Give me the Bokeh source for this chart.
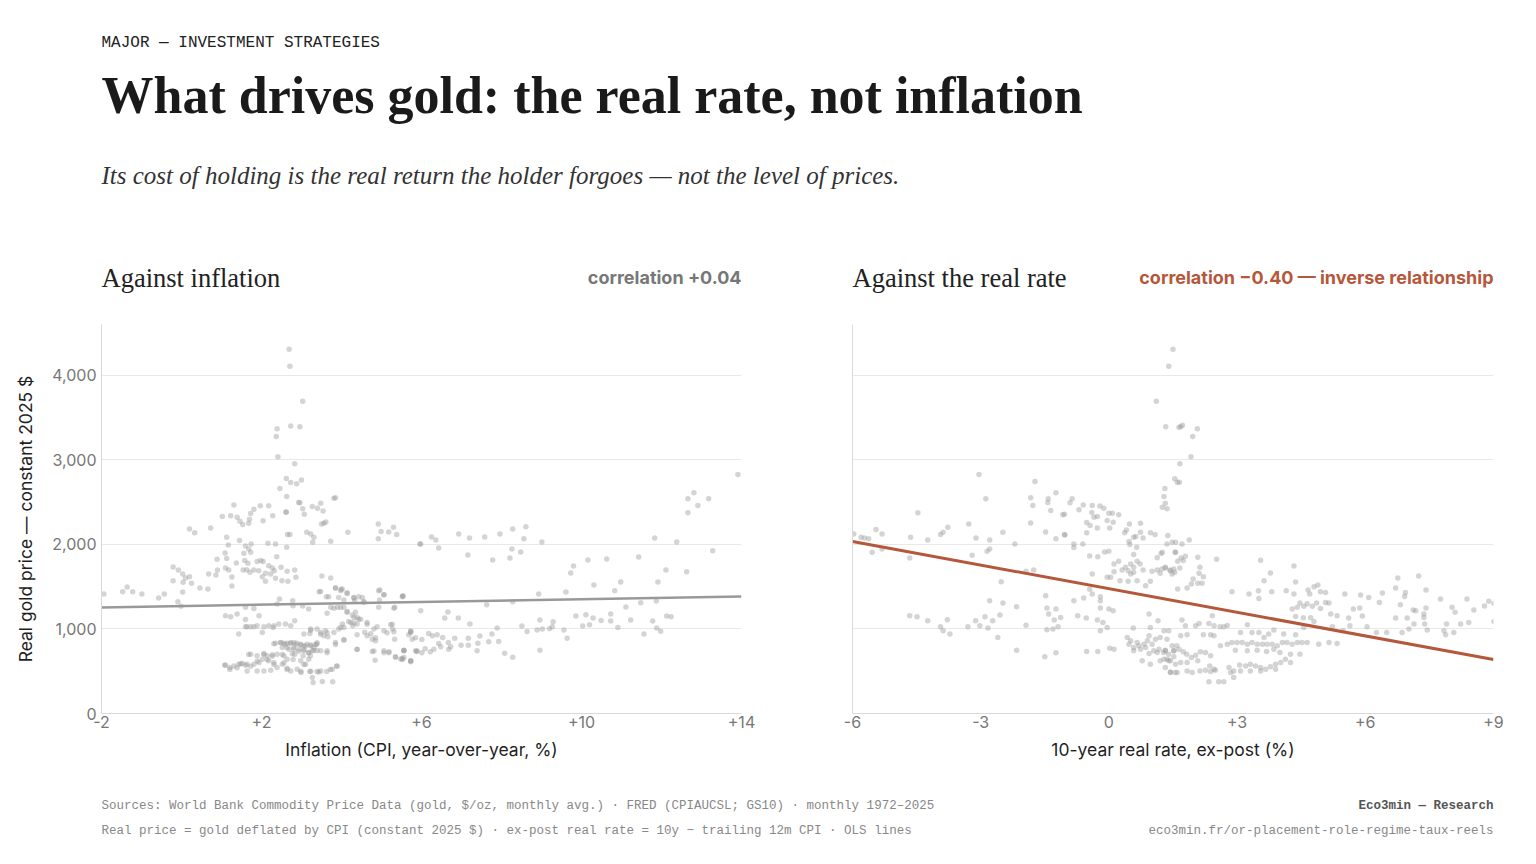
from bokeh.plotting import figure
from bokeh.models import Range1d, Label, FixedTicker, ColumnDataSource
from bokeh.layouts import column, row
from bokeh.embed import file_html
from bokeh.resources import INLINE

# ---- data ----
# left panel: inflation (CPI yoy, %) vs real gold price (constant 2025 $)
infl_pct = [
    -1.94, -1.47, -1.36, -1.22, -0.99, -0.57, -0.43,
    -0.21, -0.08, 0.03, 0.1, 0.2, 0.25, -0.21, 0.04, 0.03, -0.09, -0.01, 0.2, 0.33, 0.73, 0.46, 0.66, 0.68, 0.86, 0.9, 0.89,
    1.02, 1.13, 1.17, 1.09, 1.13, 1.1, 1.18, 1.26, 1.26, 1.37, 1.45, 1.56, 1.6, 1.68, 1.73, 1.58, 1.66, 1.54, 1.63, 1.71,
    1.81, 1.89, 1.98, 2.04, 1.93, 2.02, 2.1, 2.18, 2.27, 2.32, 2.23, 2.1, 2.35, 2.49, 2.38, 2.35, 2.16, 1.74, 2.63, 2.65,
    2.61, 2.83, 2.86, 2.64, 2.51, 2.66, 2.45, 2.39, 2.79, 2.78, 3.03, 3.18, 3.44, 3.62, 3.51, 3.73, 3.85, 3.99, 3.93, 4.06,
    4.16, 3.73, 3.23, 3.13, 3.31, 3.28, 3.56, 3.61, 3.5, 3.4, 3.27, 3.48, 3.54, 3.81, 3.85,
    1.31, 1.23, 1.39, 1.46, 1.53, 1.68, 1.7, 1.73, 1.81, 1.97, 2.18, 2.04, 2.28, 2.71,
    2.69, 2.71, 3.03, 2.73, 2.96, 2.39, 2.37, 2.41, 2.83, 2.62, 2.73, 2.88, 3.0, 2.46, 2.63, 2.93, 2.96, 2.62, 3.03, 3.07,
    4.02, 4.14, 4.31, 4.33, 4.52, 4.56, 4.96, 5.06, 4.95, 4.93, 5.33, 5.54, 4.92, 4.99, 4.92, 5.18, 5.3, 5.38, 5.96,
    3.73, 3.9, 4.06, 4.14, 4.35, 4.31, 4.23, 4.39, 4.48, 4.64, 4.58, 4.39, 4.28, 4.06, 3.93, 4.02, 3.64, 3.6, 3.81, 3.48,
    3.56, 3.66, 3.39, 3.23, 3.21, 3.06, 4.81, 4.89, 5.06, 5.23, 5.28, 5.33, 4.64, 4.77, 4.85, 5.06, 5.19, 5.35, 5.52, 5.73,
    5.56, 5.73, 5.85, 4.84, 4.77, 4.39, 4.06, 3.85, 3.64, 3.89,
    1.1, 1.23, 1.39, 1.6, 1.43, 1.6, 1.64, 1.73, 1.81, 1.89, 2.02, 2.06, 2.18, 2.31, 2.43, 2.6, 2.73, 2.83, 1.94, 1.81, 1.6, 2.29,
    2.35, 2.48, 2.56, 2.64, 2.73, 2.81, 2.89, 2.98, 3.06, 3.14, 3.23, 3.31, 3.38, 2.81, 2.94, 3.06, 3.18, 3.27, 3.04, 3.22, 2.52, 2.69, 2.83, 2.64, 2.98, 3.18, 3.1,
    1.73, 1.89, 2.06, 2.14, 2.27, 2.39, 2.56, 2.02, 2.18, 2.31, 1.94, 1.81, 1.64, 1.52, 1.43, 1.31, 1.21, 1.08, 1.64, 1.89,
    2.06, 2.23, 2.39, 2.52, 2.64, 2.73, 2.89, 2.99, 3.21, 3.39, 3.48, 3.63, 3.77, 3.27, 3.29, 3.52, 3.78, 3.48,
    1.1, 1.21, 1.39, 1.48, 1.6, 1.73, 1.68, 1.89, 2.06, 2.14, 2.27, 2.31, 2.52, 2.56, 2.64, 2.77, 2.79, 2.98, 3.06, 3.23, 3.43, 3.72, 3.88,
    2.31, 2.48, 2.6, 2.73, 2.85, 2.98, 3.1, 3.23, 3.35, 2.64, 2.81, 2.93, 3.06, 3.18, 3.31, 3.39,
    3.48, 3.68, 3.85, 3.98, 4.14, 4.31, 4.43, 4.56, 3.81, 3.98, 4.14, 4.27, 4.39, 4.18, 4.31, 4.43, 4.64, 4.73, 4.85, 5.14,
    5.27, 5.31, 5.52, 4.93, 5.06, 5.31, 5.73, 5.85, 4.81, 5.06, 5.18, 5.35, 5.52, 5.73, 5.56, 5.89, 3.64, 3.85, 4.06, 3.39, 3.48, 3.64, 3.23, 3.98, 4.39,
    13.91, 12.66, 12.81, 12.91, 13.18, 12.66, 13.28, 12.63, 12.38, 11.83, 11.43, 12.11, 11.91, 10.63, 10.16, 9.8, 9.73, 10.31, 10.98, 10.83,
    9.61, 8.93, 9.01, 8.61, 8.28, 8.56, 7.96, 7.58, 7.2, 6.93, 6.25, 6.36, 6.43, 5.98, 7.16, 7.78, 8.21, 8.26, 8.48, 7.63,
    8.28, 5.53, 5.98, 6.66, 6.58, 6.92, 7.21, 7.89, 8.51, 8.64, 8.96, 8.89, 9.02, 9.29, 9.27, 9.2, 9.56, 9.64, 9.86, 10.03,
    10.11, 10.2, 10.29, 10.49, 10.73, 10.73, 10.91, 11.11, 11.23, 11.48, 11.56, 11.78, 11.87, 11.88, 11.98, 12.13, 12.24,
    5.73, 5.68, 5.77, 5.56, 5.56, 5.48, 5.73, 5.88, 6.01, 6.09, 6.22, 6.31, 6.01, 6.18, 6.27, 6.39, 6.53, 6.43, 6.48, 6.67,
    6.73, 6.68, 6.83, 6.99, 7.17, 7.17, 7.41, 7.39, 7.46, 7.68, 7.76, 7.93, 8.08, 8.28, 8.96,
]
infl_price = [
    1413, 1440, 1496, 1440, 1413, 1365, 1413,
    1733, 1697, 1650, 1602, 1618, 1539, 1571, 1551, 1437, 1322, 1267, 2183, 2136, 2195, 1484, 1472, 1650, 1638, 1697, 1824,
    2329, 2084, 1993, 1899, 1832, 1721, 1697, 1614, 1507, 1780, 2045, 1895, 1981, 1946, 1907, 1808, 1776, 1697, 1701, 1669,
    1697, 1796, 1808, 1796, 1689, 1618, 1658, 1748, 1721, 1689, 1650, 1563, 1598, 1729, 1855, 2005, 2013, 2005, 1966, 2116,
    2380, 1697, 1610, 1681, 1571, 1563, 1353, 1294, 1274, 1333, 1270, 1235, 1440, 1381, 1626, 1602, 1484, 1468, 1373, 1341,
    2144, 2037, 2124, 2144, 2084, 2025, 2250, 2266, 2242, 2428, 2448, 2487, 2396, 2546, 2550,
    2467, 2337, 2321, 2274, 2234, 2250, 2297, 2365, 2416, 2456, 2456, 2278, 2337, 2116,
    4308, 4107, 3692, 3400, 3392, 3368, 3277, 3036, 2953, 2779, 2732, 2716, 2760, 2661, 2566, 2495, 2491, 2384, 2420, 2357,
    1472, 1428, 1373, 1333, 1373, 1314, 1460, 1405, 1342, 1255, 1255, 1389, 2242, 2151, 2065, 2147, 2203, 2116, 2005,
    1255, 1255, 1255, 1196, 1196, 1136, 1077, 1057, 1116, 1077, 962, 931, 1037, 1018, 998, 1057, 1184, 978, 958, 958,
    919, 907, 998, 998, 947, 939, 998, 1026, 978, 1049, 998, 879, 919, 879, 860, 741, 729, 670, 650, 623,
    741, 958, 741, 630, 733, 761, 867, 840, 741, 563,
    1156, 1144, 1176, 1113, 939, 1026, 1026, 1026, 1026, 1037, 958, 1026, 1037, 1037, 1057, 1057, 1037, 1097, 1156, 1243, 1255, 1018,
    832, 840, 832, 832, 832, 840, 832, 820, 800, 820, 800, 781, 820, 781, 761, 741, 721, 741, 682, 682, 781, 761, 702, 642, 623, 642, 583,
    702, 682, 709, 682, 694, 702, 682, 642, 623, 603, 603, 583, 583, 591, 583, 563, 544, 575, 504, 504,
    504, 512, 544, 583, 536, 504, 524, 484, 496, 496, 504, 496, 524, 425, 366, 378, 374, 741,
    571, 520, 540, 587, 571, 559, 698, 618, 698, 638, 678, 579, 698, 599, 520, 706, 638, 500, 579, 500, 492, 520, 559,
    825, 837, 817, 837, 817, 809, 797, 809, 817, 777, 757, 737, 757, 718, 746, 746,
    1444, 1381, 1484, 1452, 1420, 1365, 1381, 1325, 1246, 1254, 1206, 1166, 1135, 1087, 1071, 1115, 1055, 944, 896, 956,
    1055, 968, 1381, 1452, 1404, 1246, 968, 896, 738, 718, 718, 666, 638, 611, 746, 738, 718, 817, 876, 837, 936, 956, 984, 1016, 757,
    2827, 2539, 2610, 2460, 2539, 2373, 1926, 1677, 2029, 2076, 1851, 1697, 1555, 1828, 1816, 1745, 1662, 1519, 1555, 1452,
    1436, 1413, 2029, 2207, 2183, 2065, 2124, 2088, 2076, 2124, 2088, 2053, 1958, 2005, 1875, 1816, 1839, 1946, 1911, 1286,
    1322, 1389, 1215, 1199, 1128, 1128, 1057, 1010, 1034, 970, 1105, 986, 998, 1085, 1026, 1002, 986, 891, 1152, 1034,
    1168, 1049, 1128, 1101, 1176, 1093, 1018, 1259, 1105, 1310, 939, 1093, 1330, 1010, 974, 1152, 1144,
    978, 931, 879, 749, 662, 643, 623, 733, 717, 765, 729, 761, 875, 946, 919, 931, 899, 828, 788, 840,
    788, 761, 891, 808, 891, 808, 832, 741, 915, 848, 939, 852, 713, 666, 749,
]

# right panel: 10-year real rate, ex-post (%) vs real gold price
rate_pct = [
    1.5, 1.4, 1.11, 1.33, 1.64, 1.68, 1.72, 2.07, 1.96, 1.92, 1.66, 1.54, 1.6, 1.65, 1.31, 1.29, 1.32, 1.25, 1.36,
    -3.04, -1.73, -2.88, -4.47, -1.83, -1.78, -1.43, -1.24, -1.42, -1.36, -0.91, -0.86, -0.7, -0.6, -1.04, -1.08, -1.83, -1.48, -1.24, -1.04, -0.82, -0.82, -0.61,
    -0.39, -0.21, -0.4, -0.35, -0.27, -0.12, 0, 0.08, 0.23, -0.04, 0.1, 0.02, -0.52, -0.52, -0.27, -0.44,
    0.37, 0.48, 0.41, 0.47, 0.49, 0.58, 0.63, 0.74, 0.8, 0.97, 1.08,
    -0.1, 0.0, -0.26, -0.45, -0.39, -0.04, 0.04, 0.12, 0.23, 0.31, 0.39, 0.45, 0.51, 0.58, 0.66, 0.73, 0.8, 0.58, 0.51, 0.58,
    0.65, 0.74, 0.12, 0.26, 0.45, 0.66, 0.86, 0.97, 1.01, 1.13, 1.2, 1.24, 1.32, 1.44, 1.52, 1.13, 1.22, 1.55,
    -5.97, -5.8, -5.72, -5.62, -5.45, -5.31, -5.54, -5.31, -4.64, -4.66, -4.24, -3.94, -3.88, -3.77, -3.28, -3.11, -2.79, -2.79, -2.85, -2.48,
    -2.2, -3.2, -2.52, -1.94, -1.76, -1.48, -1.03, -0.59, -0.45, -0.39, -0.2, -0.2, 0, 0.1, -0.2, -0.53, -0.73,
    -4.66, -4.49, -4.24, -3.94, -3.88, -3.78, -3.72, -3.3, -3.12, -3.02, -2.9, -2.83, -2.72, -2.6, -2.55, -2.79, -2.48, -2.16, -2.16, -1.94,
    -1.5, -1.45, -1.31, -1.24, -1.19, -1.28, -1.41, -1.24, -1.13, -1.45, -0.82, -0.52, -0.26, -0.27, -0.14, -0.2, -0.04, 0.02, 0.12, 0.57,
    0.43, 0.47, 0.58, 0.7, 0.78, 0.86, 0.94, 0.97, 0.9, 1.01, 1.09, 1.13, 1.2, 1.32, 1.36, 1.44, 1.55, 1.44, 1.52, 1.59, 1.4, 1.15, 0.94,
    0.51, 0.58, 0.66, 0.74, 0.82, 0.94, 1.05, 1.17, 1.28, 1.4, 1.52, 0.97, 1.2, 1.32,
    1.38, 1.36, 1.48, 1.56, 1.71, 1.88, 1.25, 1.56, 1.69, 1.79, 1.74, 1.61, 1.32, 1.43, 1.54, 1.48, 1.66, 2.08, 2.13, 2.11,
    2.21, 2.08, 2.18, 1.97, 1.93, 1.61, 1.83, 2.52, 3.55, 3.78, 3.63, 4.33, 4.37, 2.88, 3.28, 3.5, 3.51, 3.81, 4.15, 4.33,
    4.8, 4.89, 4.95, 5.07, 4.66, 4.7, 5.52, 5.89, 6.08, 6.4, 6.33, 6.76, 6.71, 6.94, 6.92, 7.25, 7.42, 6.82, 7.18, 7.12,
    7.42, 7.37, 7.37, 7.39, 7.45, 7.14, 6.98, 7.02, 6.86, 6.71, 6.5, 6.26, 6.04, 5.93, 5.87, 5.72, 5.61, 5.64, 5.48, 5.34,
    5.19, 5.15, 5.07, 4.95, 4.86, 4.76, 4.64, 4.56, 4.47, 4.41, 4.29, 4.37, 4.55, 4.72, 4.8, 5.23,
    7.76, 8.03, 8.1, 8.38, 8.54, 8.79, 8.89, 9.01, 9.01, 8.42, 8.23, 7.9, 8.07, 7.88, 7.84,
    1.29, 1.36, 1.48, 1.32, 1.29, 1.4, 1.52, 1.64, 1.74, 1.82, 1.93, 2.03, 2.14, 2.26, 2.38, 2.08, 1.83, 1.68, 1.56, 1.44,
    1.6, 1.83, 1.95, 2.13, 2.26, 2.38, 2.46, 2.36, 2.49, 2.34, 2.57, 2.69, 2.81, 2.92, 2.92, 3.06, 3.2, 3.31, 3.43, 3.55,
    3.67, 3.78, 3.9, 4.02, 4.13, 4.25, 2.85, 3.08, 3.31, 3.55, 3.9,
    2.61, 2.77, 2.88, 3.0, 3.12, 3.24, 3.35, 3.47, 3.59, 3.7, 3.82, 3.94, 4.06, 4.17, 4.29, 4.41, 4.52, 4.64, 4.91, 5.15, 5.34,
    2.96, 3.24, 3.47, 3.69, 3.86, 4.0, 4.25, 4.47, 3.08, 3.24, 3.35, 3.51, 3.63, 3.74, 3.86, 4.09, 4.37, 4.56,
    2.77, 2.69, 2.6, 2.46, 2.34, 2.42, 2.21, 2.38, 2.46, 2.11, 2.03, 1.79, 1.71, 1.68, 1.83,
]
rate_price = [
    4308, 4107, 3692, 3392, 3384, 3392, 3408, 3368, 3277, 3036, 2953, 2776, 2736, 2736, 2661, 2566, 2487, 2440, 2420,
    2827, 2744, 2539, 2373, 2550, 2459, 2495, 2610, 2539, 2400, 2491, 2539, 2408, 2467, 2357, 2349, 2254, 2147, 2065, 2116, 2005, 1962, 2005,
    2459, 2455, 2377, 2321, 2329, 2428, 2369, 2369, 2349, 2282, 2262, 2195, 2258, 2136, 2195, 2222,
    2136, 2242, 2171, 2033, 1997, 2084, 2092, 2250, 2076, 2136, 2116,
    1910, 1918, 1855, 1863, 1650, 1610, 1610, 1768, 1800, 1697, 1729, 1689, 1768, 1729, 1800, 1768, 1697, 1669, 1650, 1879,
    1966, 2143, 1677, 1571, 1563, 1571, 1511, 1563, 1681, 1697, 1658, 1709, 1721, 1689, 1709, 1843, 1891, 1907,
    2124, 2084, 2076, 2065, 2175, 2124, 1906, 1946, 2084, 1839, 2053, 2116, 2143, 2203, 2242, 2076, 2053, 1946, 1918, 2143,
    2005, 1871, 1559, 1681, 1697, 1393, 2112, 1365, 1468, 1413, 1381, 1333, 1235, 1215, 1247, 1128, 1156,
    1156, 1144, 1097, 1026, 978, 1109, 939, 1026, 1097, 1037, 1144, 1010, 1097, 899, 1164, 1334, 1306, 1263, 749, 1045,
    670, 990, 998, 717, 1026, 1105, 1176, 1235, 1136, 1247, 1334, 733, 733, 1105, 1077, 978, 1018, 773, 761, 1010,
    899, 820, 741, 800, 623, 781, 919, 1018, 860, 820, 879, 721, 899, 749, 642, 623, 485, 492, 741, 800, 978, 1097, 1176,
    860, 781, 840, 761, 820, 710, 741, 761, 721, 702, 670, 583, 623, 544,
    2104, 2005, 2025, 2025, 2005, 2053, 1907, 1907, 1839, 1859, 1808, 1800, 1729, 1697, 1669, 1650, 1721, 1847, 1729, 1658,
    1618, 1539, 1539, 1590, 1531, 1472, 1484, 1823, 1812, 1662, 1571, 1745, 1555, 1440, 1413, 1452, 1361, 1440, 1452, 1413,
    1500, 1519, 1440, 1432, 1460, 1413, 1413, 1401, 1373, 1425, 1314, 1602, 1484, 1432, 1385, 1626, 1460, 1286, 1215, 1223,
    1247, 1176, 1136, 1057, 986, 1057, 1128, 998, 958, 1128, 958, 958, 1026, 1152, 1247, 1235, 1128, 1037, 978, 1156,
    1176, 1306, 1314, 1243, 1306, 1267, 1298, 1267, 1306, 1255, 1235, 1148, 1132, 1132, 1089, 1026,
    1353, 1255, 1196, 1353, 1223, 1270, 1326, 1302, 1089, 1077, 1057, 1057, 958, 931, 978,
    978, 879, 800, 741, 642, 623, 741, 761, 729, 702, 662, 690, 729, 721, 682, 623, 603, 603, 583, 484,
    484, 504, 484, 504, 512, 496, 524, 563, 512, 374, 374, 374, 544, 504, 425, 575, 563, 583, 563, 544,
    524, 552, 524, 603, 642, 603, 484, 504, 504, 504, 583,
    800, 820, 840, 840, 840, 820, 840, 820, 820, 820, 820, 800, 840, 840, 820, 840, 840, 840, 820, 840, 828,
    749, 741, 749, 733, 761, 721, 702, 702, 958, 1049, 958, 958, 899, 939, 986, 939, 931, 1018,
    1041, 1026, 1026, 1037, 1065, 1156, 931, 931, 919, 1065, 1037, 1037, 1105, 919, 931,
]

# OLS lines: price = intercept + slope * x
ols_infl = (1270, 8.2)
ols_rate = (1476, -93.1)

infl_ticks = [-2, 2, 6, 10, 14]
infl_tick_labels = ["-2", "+2", "+6", "+10", "+14"]
rate_ticks = [-6, -3, 0, 3, 6, 9]
rate_tick_labels = ["-6", "-3", "0", "+3", "+6", "+9"]
price_ticks = [0, 1000, 2000, 3000, 4000]
price_tick_labels = ["0", "1,000", "2,000", "3,000", "4,000"]

corr_infl = "+0.04"
corr_rate = "\u22120.40"

INK = "#1f1f1f"
MUTED = "#777777"
RUST = "#b5573a"
DOT = "#999999"
SANS = "Inter"
SERIF = "Liberation Serif"
MONO = "Liberation Mono"


def text_panel(w, h):
    p = figure(width=w, height=h, x_range=Range1d(0, w), y_range=Range1d(h, 0),
               x_axis_type=None, y_axis_type=None, toolbar_location=None,
               output_backend="svg", min_border=0, outline_line_color=None)
    p.background_fill_color = "white"
    p.border_fill_color = "white"
    return p


def put(p, x, y, text, size, font=SANS, color=INK, style="normal", align="left"):
    p.add_layout(Label(x=x, y=y, text=text, text_font=font, text_font_size=size,
                       text_font_style=style, text_color=color, text_align=align,
                       text_baseline="middle"))


def scatter_panel(w, xs, ys, xr, ticks, tick_labels, fit, line_color, line_w,
                  left, right, show_y):
    p = figure(width=w, height=470, x_range=Range1d(*xr), y_range=Range1d(0, 4600),
               toolbar_location=None, output_backend="svg",
               min_border_left=left, min_border_right=right,
               min_border_top=24, min_border_bottom=57)
    p.outline_line_color = None
    p.background_fill_color = "white"
    p.border_fill_color = "white"

    src = ColumnDataSource(dict(x=xs, y=ys))
    p.scatter("x", "y", source=src, size=5.5, fill_color=DOT, fill_alpha=0.42,
              line_color=None)

    b, m = fit
    p.line([xr[0], xr[1]], [b + m * xr[0], b + m * xr[1]],
           line_color=line_color, line_width=line_w)

    p.xaxis.ticker = FixedTicker(ticks=ticks)
    p.xaxis.major_label_overrides = dict(zip(ticks, tick_labels))
    if show_y:
        p.yaxis.ticker = FixedTicker(ticks=price_ticks)
        p.yaxis.major_label_overrides = dict(zip(price_ticks, price_tick_labels))
        p.yaxis.axis_label = "Real gold price \u2014 constant 2025 $"
        p.yaxis.axis_label_standoff = 13
    else:
        p.yaxis.ticker = FixedTicker(ticks=[])
    p.ygrid.ticker = FixedTicker(ticks=price_ticks)
    p.xgrid.visible = False
    p.ygrid.grid_line_color = "#e8e8e8"

    for ax in (p.xaxis, p.yaxis):
        ax.axis_line_color = "#d9d9d9"
        ax.major_tick_line_color = None
        ax.minor_tick_line_color = None
        ax.major_tick_out = 0
        ax.major_tick_in = 0
        ax.minor_tick_out = 0
        ax.major_label_text_font = SANS
        ax.major_label_text_font_size = "16px"
        ax.major_label_text_color = MUTED
        ax.axis_label_text_font = SANS
        ax.axis_label_text_font_size = "17.5px"
        ax.axis_label_text_font_style = "normal"
        ax.axis_label_text_color = INK
    p.xaxis.major_label_standoff = 2
    p.yaxis.major_label_standoff = 5
    p.xaxis.axis_label_standoff = 8
    return p


# ---- header (page pixels) ----
head = text_panel(1528, 300)
put(head, 101, 42, "MAJOR \u2014 INVESTMENT STRATEGIES", "16px", font=MONO, color="#222222")
put(head, 101, 95, "What drives gold: the real rate, not inflation", "52px", font=SERIF,
    color="#1a1a1a", style="bold")
put(head, 101, 175, "Its cost of holding is the real return the holder forgoes \u2014 not the level of prices.",
    "25px", font=SERIF, color="#333333", style="italic")
put(head, 101, 277, "Against inflation", "26.5px", font=SERIF, color="#222222")
put(head, 741, 277, "correlation " + corr_infl, "18px", color=MUTED, style="bold", align="right")
put(head, 852, 277, "Against the real rate", "26.5px", font=SERIF, color="#222222")
put(head, 1493, 277, "correlation " + corr_rate + " \u2014 inverse relationship", "18px",
    color=RUST, style="bold", align="right")

# ---- panels ----
p1 = scatter_panel(768, infl_pct, infl_price, (-2, 14), infl_ticks, infl_tick_labels,
                   ols_infl, "#999999", 2.5, 101, 27, True)
p1.xaxis.axis_label = "Inflation (CPI, year-over-year, %)"
p2 = scatter_panel(760, rate_pct, rate_price, (-6, 9), rate_ticks, rate_tick_labels,
                   ols_rate, RUST, 3, 84, 35, False)
p2.xaxis.axis_label = "10-year real rate, ex-post (%)"

# ---- footer ----
foot = text_panel(1528, 80)
put(foot, 101, 35, "Sources: World Bank Commodity Price Data (gold, $/oz, monthly avg.) \u00b7 "
    "FRED (CPIAUCSL; GS10) \u00b7 monthly 1972\u20132025", "12.5px", font=MONO, color="#888888")
put(foot, 101, 60, "Real price = gold deflated by CPI (constant 2025 $) \u00b7 ex-post real rate = "
    "10y \u2212 trailing 12m CPI \u00b7 OLS lines", "12.5px", font=MONO, color="#888888")
put(foot, 1493, 35, "Eco3min \u2014 Research", "12.5px", font=MONO, color="#555555",
    style="bold", align="right")
put(foot, 1493, 60, "eco3min.fr/or-placement-role-regime-taux-reels", "12.5px", font=MONO,
    color="#888888", align="right")

page = column(head, row(p1, p2), foot)
open("out.html", "w", encoding="utf-8").write(file_html(page, INLINE, "What drives gold"))
